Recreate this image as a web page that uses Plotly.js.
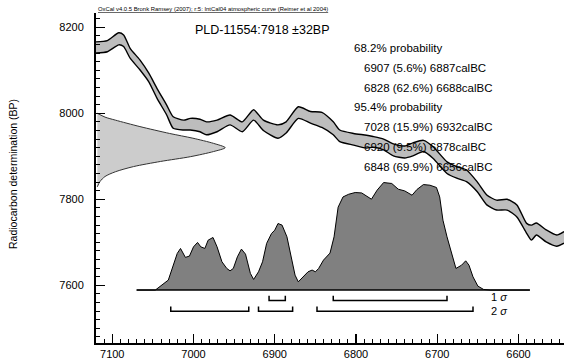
<!DOCTYPE html>
<html>
<head>
<meta charset="utf-8">
<script src="https://cdn.plot.ly/plotly-3.0.1.min.js"></script>
<style>html,body{margin:0;padding:0;background:#fff;}#chart{width:564px;height:361px;}</style>
</head>
<body>
<div id="chart"></div>
<script>
// ---- Data ----
// Calibration curve (IntCal04) band: calendar years (calBC) with upper/lower radiocarbon ages (BP)
const curveYears = [7120, 7106, 7092, 7086, 7078, 7066, 7055, 7045, 7033, 7025, 7012, 7004, 6992, 6984, 6971, 6955, 6940, 6926, 6914, 6896, 6886, 6871, 6856, 6842, 6828, 6820, 6803, 6787, 6779, 6766, 6754, 6740, 6730, 6717, 6705, 6688, 6676, 6664, 6651, 6639, 6627, 6614, 6602, 6590, 6584, 6578, 6566, 6553, 6544];
const curveUpper = [8166, 8169, 8187, 8182, 8151, 8124, 8093, 8058, 8019, 7992, 7984, 7988, 7986, 7980, 7984, 7996, 7980, 8008, 7984, 7973, 7980, 8015, 8004, 8002, 7980, 7961, 7953, 7949, 7946, 7940, 7929, 7924, 7931, 7937, 7922, 7887, 7876, 7868, 7841, 7810, 7798, 7800, 7787, 7744, 7740, 7745, 7729, 7717, 7725];
const curveLower = [8140, 8143, 8159, 8155, 8128, 8101, 8073, 8035, 7996, 7965, 7961, 7961, 7957, 7950, 7957, 7973, 7957, 7984, 7960, 7942, 7954, 7988, 7977, 7967, 7950, 7934, 7926, 7919, 7921, 7915, 7901, 7896, 7901, 7911, 7895, 7860, 7849, 7841, 7818, 7787, 7775, 7775, 7759, 7721, 7705, 7717, 7701, 7691, 7698];

// Radiocarbon date distribution (relative probability against BP)
const dateBP   = [8000, 7991, 7984, 7969, 7953, 7942, 7930, 7920, 7911, 7899, 7888, 7876, 7864, 7853, 7841, 7829];
const dateProb = [0.01, 0.07, 0.15, 0.34, 0.57, 0.75, 0.91, 1.00, 0.91, 0.73, 0.50, 0.29, 0.15, 0.07, 0.03, 0.01];

// Calibrated distribution (relative probability, % of max, against calBC)
const calYears = [7070, 7047, 7031, 7025, 7020, 7016, 7010, 7005, 7000, 6995, 6991, 6986, 6982, 6976, 6971, 6965, 6959, 6955, 6951, 6946, 6941, 6936, 6930, 6926, 6920, 6915, 6910, 6904, 6900, 6896, 6891, 6885, 6880, 6875, 6871, 6865, 6859, 6854, 6850, 6846, 6840, 6832, 6827, 6822, 6816, 6809, 6801, 6793, 6787, 6781, 6774, 6766, 6756, 6748, 6740, 6731, 6725, 6717, 6709, 6701, 6697, 6693, 6688, 6682, 6677, 6670, 6665, 6661, 6656, 6650, 6643, 6635, 6586];
const calProb  = [0, 0, 9.3, 23.2, 34.1, 38.7, 30.4, 31.6, 40.2, 44.3, 40.2, 38.7, 46.4, 48.9, 40.2, 26.3, 20.1, 17.9, 20.1, 30.9, 38.1, 33.4, 15.5, 9.9, 17, 26.3, 43.4, 52.6, 55.7, 61.9, 60.4, 49.5, 30.9, 13.9, 7.7, 12.3, 17, 18.6, 17, 20.1, 27.9, 34.4, 49.5, 77.1, 86.6, 89.1, 90.7, 90.3, 87.3, 84.5, 92.9, 100, 99.1, 93.8, 92.2, 88.2, 93.5, 98.1, 97.5, 95.4, 86.6, 65, 49.5, 34.1, 20.1, 23.2, 27.2, 23.2, 12.3, 3.7, 0.6, 0, 0];

// Ranges (calBC)
const sigma1From = [6907, 6828];
const sigma1To   = [6887, 6688];
const sigma1Pct  = ['5.6', '62.6'];
const sigma2From = [7028, 6920, 6848];
const sigma2To   = [6932, 6878, 6656];
const sigma2Pct  = ['15.9', '9.5', '69.9'];

const sampleLabel = 'PLD-11554:7918 \u00B132BP';
const headerText = 'OxCal v4.0.5 Bronk Ramsey (2007); r:5: IntCal04 atmospheric curve (Reimer et al 2004)';
const xTickVals = [7100, 7000, 6900, 6800, 6700, 6600];
const yTickVals = [7600, 7800, 8000, 8200];

// ---- Layout constants ----
const xRange = [7120, 6544];
const yRange = [7466, 8233];
const distBase = 7589;      // baseline of calibrated distribution (BP units)
const distScale = 2.5;      // BP units per % of max
const dateWidth = 159;      // calendar-year width of date distribution peak
const sigma1Y = 7565, sigma2Y = 7540, capH = 11;

const FONT = 'Liberation Sans, Arial, Helvetica, sans-serif';
const traces = [];

// Calibration band fill
traces.push({
  x: curveYears.concat(curveYears.slice().reverse()),
  y: curveUpper.concat(curveLower.slice().reverse()),
  type: 'scatter', mode: 'lines', fill: 'toself', fillcolor: '#bdbdbd',
  line: {width: 0, shape: 'spline', smoothing: 0.6}, hoverinfo: 'skip'
});
[curveUpper, curveLower].forEach(arr => traces.push({
  x: curveYears, y: arr, type: 'scatter', mode: 'lines',
  line: {color: '#000', width: 1.4, shape: 'spline', smoothing: 0.6}, hoverinfo: 'skip'
}));

// Date distribution on y axis
traces.push({
  x: dateProb.map(p => xRange[0] - p * dateWidth),
  y: dateBP,
  type: 'scatter', mode: 'lines', fill: 'toself', fillcolor: '#cccccc',
  line: {color: '#333', width: 1, shape: 'spline', smoothing: 0.8}, hoverinfo: 'skip'
});

// Calibrated distribution
traces.push({
  x: calYears, y: calProb.map(p => distBase + p * distScale),
  type: 'scatter', mode: 'lines', fill: 'toself', fillcolor: '#808080',
  line: {color: '#000', width: 1}, hoverinfo: 'skip'
});
traces.push({
  x: [calYears[0], calYears[calYears.length - 1]], y: [distBase, distBase],
  type: 'scatter', mode: 'lines', line: {color: '#000', width: 1.5}, hoverinfo: 'skip'
});

// Sigma brackets
function bracket(froms, tos, yv) {
  const xs = [], ys = [];
  froms.forEach((f, i) => {
    xs.push(f, f, tos[i], tos[i], null);
    ys.push(yv + capH, yv, yv, yv + capH, null);
  });
  return {x: xs, y: ys, type: 'scatter', mode: 'lines', line: {color: '#000', width: 1.5}, hoverinfo: 'skip'};
}
traces.push(bracket(sigma1From, sigma1To, sigma1Y));
traces.push(bracket(sigma2From, sigma2To, sigma2Y));

// ---- Annotations ----
const W = 564, H = 361, mL = 96, mR = 0, mT = 13, mB = 18;
const pw = W - mL - mR, ph = H - mT - mB;
const px = v => (v - mL) / pw;
const py = v => (H - mB - v) / ph;

const annotations = [];
annotations.push({text: '<u>' + headerText + '</u>', xref: 'paper', yref: 'paper', x: 0, y: 1,
  xanchor: 'left', yanchor: 'bottom', yshift: -1, showarrow: false, font: {family: FONT, size: 5.9, color: '#000'}});
annotations.push({text: sampleLabel, xref: 'paper', yref: 'paper', x: px(262), y: py(30),
  xanchor: 'center', yanchor: 'middle', showarrow: false, font: {family: FONT, size: 12.5, color: '#000'}});

const lines = [];
lines.push({t: '68.2% probability', ind: false});
sigma1From.forEach((f, i) => lines.push({t: f + ' (' + sigma1Pct[i] + '%) ' + sigma1To[i] + 'calBC', ind: true}));
lines.push({t: '95.4% probability', ind: false});
sigma2From.forEach((f, i) => lines.push({t: f + ' (' + sigma2Pct[i] + '%) ' + sigma2To[i] + 'calBC', ind: true}));
lines.forEach((l, i) => annotations.push({text: l.t, xref: 'paper', yref: 'paper',
  x: px(l.ind ? 361.7 : 351.7), y: py(48.3 + i * 19.73), xanchor: 'left', yanchor: 'middle',
  showarrow: false, font: {family: FONT, size: 11.5, color: '#000'}}));

annotations.push({text: '1 <i>\u03C3</i>', xref: 'paper', yref: 'paper', x: px(489), y: py(296.7),
  xanchor: 'left', yanchor: 'middle', showarrow: false, font: {family: FONT, size: 11, color: '#000'}});
annotations.push({text: '2 <i>\u03C3</i>', xref: 'paper', yref: 'paper', x: px(489), y: py(310.7),
  xanchor: 'left', yanchor: 'middle', showarrow: false, font: {family: FONT, size: 11, color: '#000'}});

annotations.push({text: 'Radiocarbon determination (BP)', xref: 'paper', yref: 'paper', x: px(13), y: py(174),
  xanchor: 'center', yanchor: 'middle', textangle: -90, showarrow: false, font: {family: FONT, size: 10.5, color: '#000'}});

const layout = {
  width: W, height: H,
  margin: {l: mL, r: mR, t: mT, b: mB, pad: 0},
  paper_bgcolor: '#fff', plot_bgcolor: '#fff',
  showlegend: false,
  font: {family: FONT, size: 11, color: '#000'},
  xaxis: {
    range: xRange, showgrid: false, zeroline: false,
    showline: true, linecolor: '#000', linewidth: 2,
    tickmode: 'array', tickvals: xTickVals, ticktext: xTickVals.map(String),
    ticks: 'inside', ticklen: 9, tickwidth: 1.3, tickcolor: '#000',
    tickfont: {family: FONT, size: 11, color: '#000'}, ticklabelstandoff: 0,
    minor: {dtick: 10, tick0: 6500, ticks: 'inside', ticklen: 4, tickwidth: 1, tickcolor: '#000', showgrid: false}
  },
  yaxis: {
    range: yRange, showgrid: false, zeroline: false,
    showline: true, linecolor: '#000', linewidth: 2,
    tickmode: 'array', tickvals: yTickVals, ticktext: yTickVals.map(String),
    ticks: 'inside', ticklen: 9, tickwidth: 1.3, tickcolor: '#000',
    tickfont: {family: FONT, size: 11, color: '#000'}, ticklabelstandoff: 8,
    minor: {dtick: 20, tick0: 7400, ticks: 'inside', ticklen: 4, tickwidth: 1, tickcolor: '#000', showgrid: false}
  },
  annotations: annotations
};

Plotly.newPlot('chart', traces, layout, {staticPlot: true, displayModeBar: false});
</script>
</body>
</html>
